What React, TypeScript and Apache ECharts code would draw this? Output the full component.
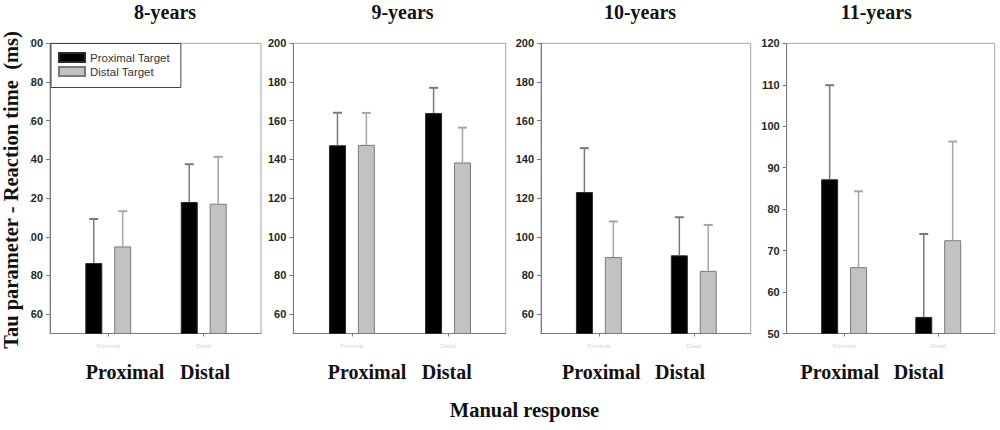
import React, { useEffect, useRef } from "react";
import * as echarts from "echarts";

// ---- data ----
const categories = ["Proximal", "Distal"];
const panelTitles = ["8-years", "9-years", "10-years", "11-years"];
const seriesNames = ["Proximal Target", "Distal Target"];

// means per panel, ordered as categories [Proximal, Distal]
const proximalTargetMean = [
  [86.4, 118.0],
  [147.3, 164.0],
  [123.1, 90.4],
  [87.2, 54.0],
];
const distalTargetMean = [
  [95.0, 117.1],
  [147.5, 138.4],
  [89.5, 82.4],
  [66.0, 72.5],
];
// upward standard deviation
const proximalTargetSD = [
  [22.8, 19.5],
  [16.8, 13.0],
  [22.7, 19.7],
  [22.7, 20.0],
];
const distalTargetSD = [
  [18.2, 24.2],
  [16.5, 18.0],
  [18.4, 23.7],
  [18.3, 23.8],
];

const yAxisMin = [50, 50, 50, 50];
const yAxisMax = [200, 200, 200, 120];
const yTickLabels = [
  [60, 80, 100, 120, 140, 160, 180, 200],
  [60, 80, 100, 120, 140, 160, 180, 200],
  [60, 80, 100, 120, 140, 160, 180, 200],
  [50, 60, 70, 80, 90, 100, 110, 120],
];

const yTitle = "Tau parameter - Reaction time  (ms)";
const xTitle = "Manual response";

// ---- layout (not data) ----
const gridLeft = [50, 293.3, 541, 786.7];
const gridRight = [261, 505.7, 750.7, 994.7];
const gridTop = 43.3;
const gridBottom = 333.5;
const titleX = [165, 402.5, 640, 876.3];
const proxLabelX = [125, 367, 601.3, 839.7];
const distLabelX = [205, 446.7, 680, 918.7];

const BAR_W = 17;
const BAR_GAP = 0.7;
const HALF_SEP = (BAR_W + BAR_W * BAR_GAP) / 2;

const serif = '"Liberation Serif", "Times New Roman", serif';
const sans = '"Liberation Sans", Arial, sans-serif';

function buildOption() {
  const grids = panelTitles.map((_, i) => ({
    left: gridLeft[i],
    top: gridTop,
    width: gridRight[i] - gridLeft[i],
    height: gridBottom - gridTop,
    show: true,
    borderColor: "#a3a3a3",
    borderWidth: 1,
    backgroundColor: "transparent",
    containLabel: false,
    outerBoundsMode: "none",
  }));

  const xAxes = panelTitles.map((_, i) => ({
    type: "value",
    gridIndex: i,
    min: 0.39,
    max: 2.6,
    axisLine: { show: true, lineStyle: { color: "#7c7c7c", width: 1 } },
    axisTick: {
      show: true,
      customValues: [1, 2],
      length: 3,
      lineStyle: { color: "#7c7c7c" },
    },
    axisLabel: {
      show: true,
      customValues: [1, 2],
      formatter: (v: number) => categories[Math.round(v) - 1] ?? "",
      fontSize: 6,
      color: "#d4d4d4",
      margin: 9,
      fontFamily: sans,
    },
    splitLine: { show: false },
  }));

  const yAxes = panelTitles.map((_, i) => ({
    type: "value",
    gridIndex: i,
    min: yAxisMin[i],
    max: yAxisMax[i],
    axisLine: { show: true, lineStyle: { color: "#7c7c7c", width: 1 } },
    axisTick: {
      show: true,
      customValues: yTickLabels[i],
      length: 4,
      lineStyle: { color: "#7c7c7c" },
    },
    axisLabel: {
      show: true,
      customValues: yTickLabels[i],
      fontSize: 11,
      fontWeight: "bold",
      fontFamily: sans,
      color: "#262626",
      margin: 7,
    },
    splitLine: { show: false },
  }));

  const series: any[] = [];
  panelTitles.forEach((_, i) => {
    const means = [proximalTargetMean[i], distalTargetMean[i]];
    const sds = [proximalTargetSD[i], distalTargetSD[i]];
    means.forEach((m, s) => {
      series.push({
        type: "bar",
        name: seriesNames[s],
        xAxisIndex: i,
        yAxisIndex: i,
        barWidth: BAR_W,
        barGap: BAR_GAP * 100 + "%",
        itemStyle: {
          color: s === 0 ? "#000000" : "#c2c2c2",
          borderColor: s === 0 ? "#2a2a2a" : "#7a7a7a",
          borderWidth: 1,
        },
        data: m.map((v, c) => [c + 1, v]),
        z: 2,
      });
    });
    means.forEach((m, s) => {
      const color = s === 0 ? "#7a7a7a" : "#a6a6a6";
      const dx = s === 0 ? -HALF_SEP : HALF_SEP;
      series.push({
        type: "custom",
        name: "err" + i + "-" + s,
        xAxisIndex: i,
        yAxisIndex: i,
        encode: { x: 0, y: [1, 2] },
        data: m.map((v, c) => [c + 1, v, v + sds[s][c]]),
        z: 3,
        renderItem: (params: any, api: any) => {
          const x = api.value(0);
          const p0 = api.coord([x, api.value(1)]);
          const p1 = api.coord([x, api.value(2)]);
          const cx = p0[0] + dx;
          return {
            type: "group",
            children: [
              {
                type: "line",
                shape: { x1: cx, y1: p0[1], x2: cx, y2: p1[1] },
                style: { stroke: color, lineWidth: 1.5 },
              },
              {
                type: "line",
                shape: { x1: cx - 4.5, y1: p1[1], x2: cx + 4.5, y2: p1[1] },
                style: { stroke: color, lineWidth: 2 },
              },
            ],
          };
        },
      });
    });
  });

  const graphic: any[] = [
    {
      type: "rect",
      z: 100,
      shape: { x: 0, y: 25, width: 30, height: 340 },
      style: { fill: "#ffffff" },
    },
    {
      type: "text",
      z: 101,
      x: 10.7,
      y: 190,
      rotation: Math.PI / 2,
      style: {
        text: yTitle,
        fontSize: 20.5,
        fontWeight: "bold",
        fontFamily: serif,
        fill: "#111111",
        align: "center",
        verticalAlign: "middle",
      },
    },
    {
      type: "text",
      z: 101,
      x: 524.5,
      y: 410,
      style: {
        text: xTitle,
        fontSize: 20.5,
        fontWeight: "bold",
        fontFamily: serif,
        fill: "#111111",
        align: "center",
        verticalAlign: "middle",
      },
    },
  ];
  panelTitles.forEach((t, i) => {
    graphic.push({
      type: "text",
      z: 101,
      x: titleX[i],
      y: 12,
      style: {
        text: t,
        fontSize: 20,
        fontWeight: "bold",
        fontFamily: serif,
        fill: "#111111",
        align: "center",
        verticalAlign: "middle",
      },
    });
    [proxLabelX[i], distLabelX[i]].forEach((lx, c) => {
      graphic.push({
        type: "text",
        z: 101,
        x: lx,
        y: 372,
        style: {
          text: categories[c],
          fontSize: 20,
          fontWeight: "bold",
          fontFamily: serif,
          fill: "#111111",
          align: "center",
          verticalAlign: "middle",
        },
      });
    });
  });

  return {
    animation: false,
    backgroundColor: "#ffffff",
    grid: grids,
    xAxis: xAxes,
    yAxis: yAxes,
    legend: {
      show: true,
      data: seriesNames,
      orient: "vertical",
      left: 51,
      top: 43.5,
      icon: "rect",
      itemWidth: 26,
      itemHeight: 9,
      itemGap: 2,
      padding: [8, 11, 10, 7],
      borderColor: "#444444",
      borderWidth: 1,
      backgroundColor: "#ffffff",
      selectedMode: false,
      textStyle: {
        fontSize: 11.5,
        fontFamily: sans,
        color: "#333333",
        lineHeight: 12,
      },
      z: 10,
    },
    series,
    graphic,
  };
}

export default function App() {
  const ref = useRef<HTMLDivElement>(null);
  useEffect(() => {
    if (!ref.current) return;
    const chart = echarts.init(ref.current, undefined, { renderer: "svg" });
    chart.setOption(buildOption() as any);
    return () => chart.dispose();
  }, []);
  return (
    <div
      ref={ref}
      style={{ position: "absolute", left: 0, top: 0, width: 1000, height: 430 }}
    />
  );
}
